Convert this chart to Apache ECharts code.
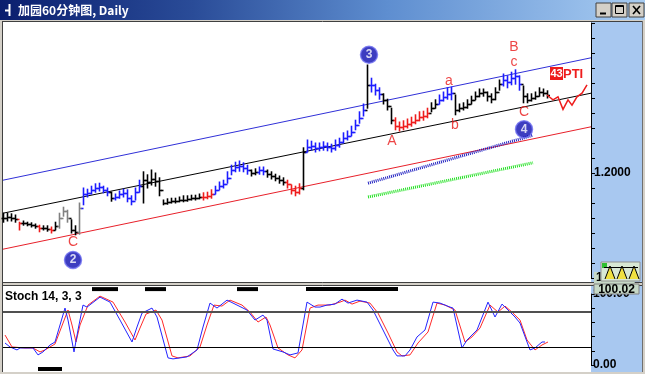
<!DOCTYPE html>
<html><head><meta charset="utf-8">
<script src="https://cdn.jsdelivr.net/npm/echarts@6/dist/echarts.min.js"></script>
<style>html,body{margin:0;padding:0;background:#d4d0c8;overflow:hidden}#c{width:645px;height:374px}</style>
</head><body><div id="c"></div>
<script>
// ---- price bars (index, high/low/close) ----
const barHigh=[1.1933,1.1933,1.1932,1.1930,1.1918,1.1920,1.1918,1.1917,1.1915,1.1913,1.1912,1.1912,1.1910,1.1918,1.1933,1.1943,1.1938,1.1922,1.1912,1.1950,
1.1975,1.1973,1.1978,1.1982,1.1983,1.1978,1.1975,1.1968,1.1965,1.1970,1.1973,1.1972,1.1962,1.1975,1.1988,1.2002,1.1997,1.2005,1.2000,1.1992,
1.1955,1.1957,1.1958,1.1958,1.1960,1.1962,1.1962,1.1963,1.1963,1.1965,1.1967,1.1968,1.1972,1.1978,1.1985,1.1988,1.2002,1.2013,1.2018,1.2020,
1.2017,1.2013,1.2005,1.2007,1.2010,1.2010,1.2005,1.2002,1.1998,1.1995,1.1992,1.1988,1.1980,1.1978,1.1982,1.2042,1.2055,1.2053,1.2050,1.2050,
1.2052,1.2050,1.2048,1.2055,1.2058,1.2067,1.2070,1.2078,1.2088,1.2102,1.2115,1.2180,1.2158,1.2148,1.2142,1.2132,1.2123,1.2108,1.2092,1.2085,
1.2087,1.2090,1.2093,1.2097,1.2102,1.2103,1.2108,1.2117,1.2122,1.2130,1.2135,1.2142,1.2143,1.2130,1.2115,1.2117,1.2122,1.2128,1.2135,1.2140,
1.2140,1.2135,1.2132,1.2142,1.2155,1.2165,1.2162,1.2168,1.2172,1.2162,1.2145,1.2132,1.2132,1.2135,1.2142,1.2140,1.2137];
const barLow=[1.1918,1.1920,1.1920,1.1918,1.1905,1.1913,1.1912,1.1910,1.1908,1.1902,1.1905,1.1903,1.1900,1.1905,1.1908,1.1928,1.1918,1.1900,1.1897,1.1898,
1.1947,1.1960,1.1965,1.1968,1.1970,1.1967,1.1962,1.1953,1.1955,1.1958,1.1960,1.1952,1.1947,1.1955,1.1968,1.1950,1.1975,1.1980,1.1978,1.1962,
1.1947,1.1948,1.1950,1.1950,1.1952,1.1952,1.1953,1.1955,1.1955,1.1957,1.1955,1.1957,1.1958,1.1965,1.1972,1.1975,1.1983,1.1997,1.2002,1.2003,
1.2002,1.1998,1.1995,1.1997,1.1998,1.1997,1.1993,1.1990,1.1987,1.1983,1.1980,1.1975,1.1965,1.1962,1.1965,1.1972,1.2035,1.2038,1.2035,1.2037,
1.2038,1.2037,1.2035,1.2038,1.2043,1.2050,1.2055,1.2062,1.2072,1.2083,1.2095,1.2108,1.2135,1.2130,1.2123,1.2115,1.2105,1.2082,1.2072,1.2070,
1.2072,1.2075,1.2078,1.2082,1.2087,1.2088,1.2092,1.2102,1.2108,1.2115,1.2120,1.2123,1.2122,1.2097,1.2102,1.2105,1.2108,1.2115,1.2122,1.2127,
1.2128,1.2120,1.2117,1.2122,1.2138,1.2145,1.2142,1.2147,1.2148,1.2138,1.2117,1.2117,1.2120,1.2123,1.2128,1.2128,1.2125];
const barClose=[1.1925,1.1927,1.1925,1.1923,1.1917,1.1917,1.1915,1.1913,1.1912,1.1908,1.1908,1.1907,1.1905,1.1912,1.1925,1.1937,1.1925,1.1905,1.1902,1.1942,
1.1965,1.1967,1.1972,1.1975,1.1977,1.1972,1.1968,1.1958,1.1960,1.1965,1.1967,1.1958,1.1953,1.1968,1.1978,1.1988,1.1985,1.1990,1.1987,1.1972,
1.1950,1.1952,1.1953,1.1953,1.1955,1.1955,1.1957,1.1958,1.1958,1.1960,1.1960,1.1962,1.1965,1.1972,1.1978,1.1982,1.1992,1.2005,1.2010,1.2012,
1.2008,1.2005,1.2000,1.2002,1.2005,1.2003,1.1998,1.1995,1.1992,1.1988,1.1985,1.1982,1.1972,1.1968,1.1975,1.2035,1.2043,1.2045,1.2042,1.2043,
1.2045,1.2043,1.2042,1.2047,1.2052,1.2058,1.2062,1.2068,1.2080,1.2092,1.2105,1.2147,1.2147,1.2138,1.2132,1.2122,1.2112,1.2088,1.2078,1.2077,
1.2078,1.2082,1.2085,1.2088,1.2093,1.2095,1.2100,1.2108,1.2115,1.2122,1.2127,1.2132,1.2133,1.2105,1.2108,1.2110,1.2115,1.2122,1.2128,1.2133,
1.2135,1.2128,1.2123,1.2135,1.2148,1.2155,1.2152,1.2158,1.2162,1.2148,1.2128,1.2122,1.2125,1.2128,1.2135,1.2133,1.2130];
// trend colouring per bar: k black, b blue, r red, g grey
const barTrend="kkkkrkkkkrkkrkgggkkgbbbbbbbkbbbbbbbkkkkkkkkkkkkkkkrrrbbbbbbbbbkkbbkkkkkrrrrkbbbbbbbbbbbbbbbkbbbkkkrrrrrrrrrkkbbbbkkkkkkkkkkkkbbbbbkkkkkkk";

// ---- drawn lines ----
const channelUpper=[[0,1.1988],[147,1.2192]];
const channelMid=[[0,1.1933],[147,1.2133]];
const channelLow=[[0,1.1873],[147,1.2077]];
const supportBlue=[[91.25,1.1983],[132.5,1.2063]];
const supportGreen=[[91.25,1.1960],[132.5,1.2017]];
const projection=[[136,1.2130],[137.5,1.2122],[138.75,1.2127],[140,1.2106],[141.25,1.2122],[142.25,1.2113],[143.5,1.2127],[144.75,1.2133],[146,1.2147]];

// ---- wave labels ----
const waveNums=[['2',17.5,1.1855],['3',91.5,1.2197],['4',130.25,1.2073]];
const waveLetters=[['C',17.5,1.1885],['A',97.25,1.2053],['a',111.5,1.2153],['b',113,1.2080],['c',127.75,1.2185],['B',127.75,1.2210],['C',130.25,1.2102]];

// ---- Stochastic 14,3,3 ----
const stochK=[[0.5,31],[1.75,25.4],[3.5,21.2],[4.25,24],[7.5,24],[8.75,14.2],[10,18.4],[11.75,28.2],[13,32.4],[15.5,80.2],[16.25,63.3],[17.75,18.4],[18.75,49.3],[20,84.4],[21,81.6],[24.25,95.6],[26.75,88.6],[29.25,63.3],[32.25,32.4],[33.5,53.5],[34.75,73.1],[37.25,80.2],[38.5,67.6],[41.25,10],[42.5,8.6],[46,11.4],[48.5,21.2],[50,53.5],[51.75,87.2],[53.5,80.2],[56,91.4],[58.5,84.4],[61,77.4],[63,63.3],[65,70.3],[66,63.3],[67.5,22.6],[70,18.4],[71.75,14.2],[73.75,17],[76,88.6],[78,81.6],[79.25,81.6],[81,84.4],[83,85.8],[84.75,92.8],[86.25,87.2],[88.5,91.4],[91,88.6],[92.5,77.4],[95,49.3],[97.5,21.2],[98.5,12.8],[100.5,12.8],[101.75,21.2],[103.5,39.5],[105.5,49.3],[107.5,88.6],[109.25,87.2],[111.75,81.6],[112.5,80.2],[114.75,24],[116,35.2],[118.5,49.3],[121.25,88.6],[123,67.6],[124.75,85.8],[126.25,77.4],[128,67.6],[129.25,59.1],[131.75,21.2],[133,24],[134.75,32.4],[135.5,32.4]];
const stochD=[[0.5,42.2],[2.25,25.4],[5.5,24],[7.5,24],[9.25,18.4],[10.5,21.2],[13,29.6],[16.25,77.4],[17.25,56.3],[18.25,32.4],[19.25,56.3],[21.25,84.4],[24.25,97],[27.5,88.6],[30.5,60.5],[33,35.2],[34.25,52.1],[35.75,71.7],[38.25,77.4],[39.75,63.3],[42.25,12.8],[43.75,10],[46.75,12.8],[49.25,25.4],[51,56.3],[52.75,84.4],[54.75,83],[56.75,91.4],[59.75,84.4],[61.75,74.5],[63.75,60.5],[65.75,67.6],[66.75,56.3],[68.75,24],[71.25,14.2],[73,10],[74.75,21.2],[76.75,80.2],[78.75,84.4],[81.75,84.4],[84.25,88.6],[85.5,91.4],[87.25,85.8],[89.25,90],[91.75,87.2],[93.75,73.1],[96.25,45.1],[98.5,18.4],[99.75,12.8],[101.75,14.2],[103.75,31],[106.25,46.5],[108.5,87.2],[110.5,84.4],[113,77.4],[115.5,32.4],[117.25,39.5],[119.25,52.1],[121.75,84.4],[123.75,74.5],[125.5,83],[127.25,74.5],[129.25,63.3],[131,35.2],[133,21.2],[134.75,28.2],[136.25,32.4]];
const stochTopBars=[[22.25,28.75],[35.5,40.75],[58.5,63.75],[75.75,98.75]];
const stochBottomBars=[[8.75,14.75]];
const stochLevels=[75,25];

const trendColors=['#000000','#1c1cff','#ee1c1c','#808080'];
const codeMap={k:0,b:1,r:2,g:3};
const barData=barClose.map((c,i)=>[i,barHigh[i],barLow[i],c,i?barClose[i-1]:c,codeMap[barTrend[i]]]);

const chart=echarts.init(document.getElementById('c'));
const FONT='"Liberation Sans", Arial, sans-serif';

function renderBar(params,api){
  const i=api.value(0);
  const pH=api.coord([i,api.value(1)]), pL=api.coord([i,api.value(2)]);
  const pC=api.coord([i,api.value(3)]), pO=api.coord([i,api.value(4)]);
  const col=trendColors[api.value(5)];
  const x=Math.round(pH[0])+0.5;
  const st={stroke:col,lineWidth:1.6};
  return {type:'group',children:[
    {type:'line',shape:{x1:x,y1:pH[1]-0.5,x2:x,y2:pL[1]+0.5},style:st},
    {type:'line',shape:{x1:x-2,y1:Math.round(pO[1])+0.5,x2:x,y2:Math.round(pO[1])+0.5},style:st},
    {type:'line',shape:{x1:x,y1:Math.round(pC[1])+0.5,x2:x+2.5,y2:Math.round(pC[1])+0.5},style:st}
  ]};
}
function renderMarker(params,api){
  const a=api.coord([api.value(0),api.value(2)]), b=api.coord([api.value(1),api.value(2)]);
  return {type:'rect',shape:{x:a[0],y:a[1]-2,width:b[0]-a[0],height:4},style:{fill:'#000'}};
}

const option={
  animation:false,
  backgroundColor:'#d4d0c8',
  grid:[
    {left:3,top:23,width:588,height:255},
    {left:3,top:294,width:588,height:71}
  ],
  xAxis:[
    {type:'value',gridIndex:0,min:0,max:147,show:false},
    {type:'value',gridIndex:1,min:0,max:147,show:false}
  ],
  yAxis:[
    {type:'value',gridIndex:0,position:'right',min:1.1825,max:1.225,interval:0.0025,
      axisLine:{show:true,onZero:false,lineStyle:{color:'#000',width:1}},
      axisTick:{show:true,length:4,lineStyle:{color:'#000'}},
      splitLine:{show:false},
      axisLabel:{margin:3,color:'#000',fontFamily:FONT,fontSize:12,fontWeight:'bold',
        formatter:v=>{const s=v.toFixed(4); if(s==='1.2000')return '1.2000'; if(s==='1.1825')return '{g|1.1825}'; return '';},
        rich:{g:{backgroundColor:'#c6d8c6',fontWeight:'bold',fontSize:12,fontFamily:FONT,padding:[0,2,0,2],color:'#000'}}}
    },
    {type:'value',gridIndex:1,position:'right',min:0,max:100,interval:20,
      axisLine:{show:true,onZero:false,lineStyle:{color:'#000',width:1}},
      axisTick:{show:true,length:4,lineStyle:{color:'#000'}},
      splitLine:{show:false},
      axisLabel:{margin:2,color:'#000',fontFamily:FONT,fontSize:12,fontWeight:'bold',
        formatter:v=>v===100?'100.00':(v===0?'0.00':'')}
    }
  ],
  graphic:[
    {type:'rect',z:-10,shape:{x:0,y:0,width:645,height:20},style:{fill:new echarts.graphic.LinearGradient(0,0,1,0,[{offset:0,color:'#0a1e6e'},{offset:0.3,color:'#2a4c98'},{offset:0.6,color:'#5e8ed0'},{offset:1,color:'#a8ccf2'}])}},
    {type:'line',z:10,shape:{x1:9.5,y1:4,x2:9.5,y2:16},style:{stroke:'#fff',lineWidth:2}},
    {type:'line',z:10,shape:{x1:5,y1:10.5,x2:9,y2:10.5},style:{stroke:'#fff',lineWidth:2}},
    {type:'text',z:10,style:{x:18,y:10,text:'加园60分钟图, Daily',fill:'#fff',font:'bold 12px "Noto Sans CJK SC", "Liberation Sans", sans-serif',verticalAlign:'middle'}},
    // window buttons
    {type:'rect',z:10,shape:{x:596,y:3,width:15,height:14},style:{fill:'#d4d0c8',stroke:'#404040',lineWidth:1}},
    {type:'rect',z:10,shape:{x:612,y:3,width:15,height:14},style:{fill:'#d4d0c8',stroke:'#404040',lineWidth:1}},
    {type:'rect',z:10,shape:{x:629,y:3,width:15,height:14},style:{fill:'#d4d0c8',stroke:'#404040',lineWidth:1}},
    {type:'line',z:11,shape:{x1:600,y1:13.5,x2:606,y2:13.5},style:{stroke:'#000',lineWidth:2}},
    {type:'rect',z:11,shape:{x:615.5,y:5.5,width:8,height:8},style:{fill:'none',stroke:'#000',lineWidth:1}},
    {type:'line',z:11,shape:{x1:615.5,y1:6.5,x2:623.5,y2:6.5},style:{stroke:'#000',lineWidth:1}},
    {type:'line',z:11,shape:{x1:633,y1:6,x2:640,y2:14},style:{stroke:'#000',lineWidth:1.6}},
    {type:'line',z:11,shape:{x1:640,y1:6,x2:633,y2:14},style:{stroke:'#000',lineWidth:1.6}},
    // panels
    {type:'rect',z:-10,shape:{x:3,y:21,width:588,height:261},style:{fill:'#fff'}},
    {type:'rect',z:-10,shape:{x:591,y:21,width:51,height:261},style:{fill:'#a8c8f0'}},
    {type:'rect',z:-10,shape:{x:3,y:286,width:588,height:86},style:{fill:'#fff'}},
    {type:'rect',z:-10,shape:{x:591,y:286,width:51,height:86},style:{fill:'#a8c8f0'}},
    {type:'line',z:-9,shape:{x1:2.5,y1:21,x2:2.5,y2:372},style:{stroke:'#404040',lineWidth:1}},
    {type:'line',z:-9,shape:{x1:2,y1:21.5,x2:643,y2:21.5},style:{stroke:'#404040',lineWidth:1}},
    {type:'line',z:-9,shape:{x1:2,y1:282.5,x2:643,y2:282.5},style:{stroke:'#404040',lineWidth:1}},
    {type:'line',z:-9,shape:{x1:2,y1:285.5,x2:643,y2:285.5},style:{stroke:'#404040',lineWidth:1}},
    {type:'line',z:-9,shape:{x1:642.5,y1:21,x2:642.5,y2:372},style:{stroke:'#707070',lineWidth:1}},
    // icon at bottom right of price panel
    {type:'rect',z:20,shape:{x:601,y:262,width:39,height:19},style:{fill:'#d8e8d4',stroke:'#909090',lineWidth:1}},
    {type:'rect',z:21,shape:{x:602,y:263,width:5,height:5},style:{fill:'#30c030'}},
    {type:'polyline',z:21,shape:{points:[[605,279],[610,266],[615,279]]},style:{stroke:'#000',fill:'#f0e040',lineWidth:1}},
    {type:'polyline',z:21,shape:{points:[[617,279],[622,266],[627,279]]},style:{stroke:'#000',fill:'#f0e040',lineWidth:1}},
    {type:'polyline',z:21,shape:{points:[[629,279],[634,266],[639,279]]},style:{stroke:'#000',fill:'#f0e040',lineWidth:1}},
    {type:'line',z:21,shape:{x1:604,y1:267.5,x2:638,y2:267.5},style:{stroke:'#000',lineWidth:1}},
    // current stoch value box
    {type:'rect',z:20,shape:{x:594,y:284,width:45,height:10},style:{fill:'#c6d8c6',stroke:'#808080',lineWidth:1}},
    {type:'text',z:21,style:{x:616.5,y:289.5,text:'100.02',fill:'#000',font:'bold 12px "Liberation Sans", Arial',align:'center',verticalAlign:'middle'}},
    // stoch title and PTI tag
    {type:'text',z:20,style:{x:5,y:297,text:'Stoch 14, 3, 3',fill:'#000',font:'bold 12px "Liberation Sans", Arial',verticalAlign:'middle'}},
    {type:'rect',z:20,shape:{x:550,y:67,width:13,height:13},style:{fill:'#ee1c1c'}},
    {type:'text',z:21,style:{x:556.5,y:74,text:'43',fill:'#fff',font:'bold 11px "Liberation Sans", Arial',align:'center',verticalAlign:'middle'}},
    {type:'text',z:21,style:{x:563,y:74,text:'PTI',fill:'#ee1c1c',font:'bold 13px "Liberation Sans", Arial',verticalAlign:'middle'}}
  ],
  series:[
    {type:'line',xAxisIndex:0,yAxisIndex:0,data:channelUpper,symbol:'none',lineStyle:{color:'#3030d8',width:1},z:1},
    {type:'line',xAxisIndex:0,yAxisIndex:0,data:channelMid,symbol:'none',lineStyle:{color:'#000',width:1},z:1},
    {type:'line',xAxisIndex:0,yAxisIndex:0,data:channelLow,symbol:'none',lineStyle:{color:'#e8202a',width:1},z:1},
    {type:'line',xAxisIndex:0,yAxisIndex:0,data:supportBlue,symbol:'none',lineStyle:{color:'#2020c0',width:3,type:[1,1]},z:1},
    {type:'line',xAxisIndex:0,yAxisIndex:0,data:supportGreen,symbol:'none',lineStyle:{color:'#20e020',width:3,type:[1,1]},z:1},
    {type:'custom',xAxisIndex:0,yAxisIndex:0,data:barData,renderItem:renderBar,encode:{x:0,y:[1,2]},z:3},
    {type:'lines',coordinateSystem:'cartesian2d',xAxisIndex:0,yAxisIndex:0,polyline:true,
      data:[{coords:projection}],lineStyle:{color:'#ee1c1c',width:1.5,opacity:1},symbol:['none','arrow'],symbolSize:9,z:4},
    {type:'scatter',xAxisIndex:0,yAxisIndex:0,data:waveNums.map(d=>({name:d[0],value:[d[1],d[2]]})),
      symbol:'circle',symbolSize:17,itemStyle:{color:'#0c0cb0',borderColor:'#7070f0',borderWidth:1.5},
      label:{show:true,position:'inside',formatter:'{b}',color:'#fff',fontWeight:'bold',fontSize:12,fontFamily:FONT},z:5},
    {type:'scatter',xAxisIndex:0,yAxisIndex:0,data:waveLetters.map(d=>({name:d[0],value:[d[1],d[2]]})),
      symbol:'circle',symbolSize:2,itemStyle:{color:'rgba(0,0,0,0)'},
      label:{show:true,position:'inside',formatter:'{b}',color:'#e81818',fontSize:14,fontFamily:FONT},z:5},
    {type:'line',xAxisIndex:1,yAxisIndex:1,data:stochK,symbol:'none',lineStyle:{color:'#2424ff',width:1},z:3,
      markLine:{silent:true,symbol:'none',label:{show:false},
        data:[{yAxis:stochLevels[0],lineStyle:{color:'#505050',width:2,type:'solid'}},{yAxis:stochLevels[1],lineStyle:{color:'#000',width:1,type:'solid'}}]}},
    {type:'line',xAxisIndex:1,yAxisIndex:1,data:stochD,symbol:'none',lineStyle:{color:'#ff2a2a',width:1},z:2},
    {type:'custom',xAxisIndex:1,yAxisIndex:1,renderItem:renderMarker,encode:{x:[0,1],y:2},
      data:stochTopBars.map(s=>[s[0],s[1],106.9]).concat(stochBottomBars.map(s=>[s[0],s[1],-5.6])),z:4}
  ]
};
chart.setOption(option);
</script></body></html>
